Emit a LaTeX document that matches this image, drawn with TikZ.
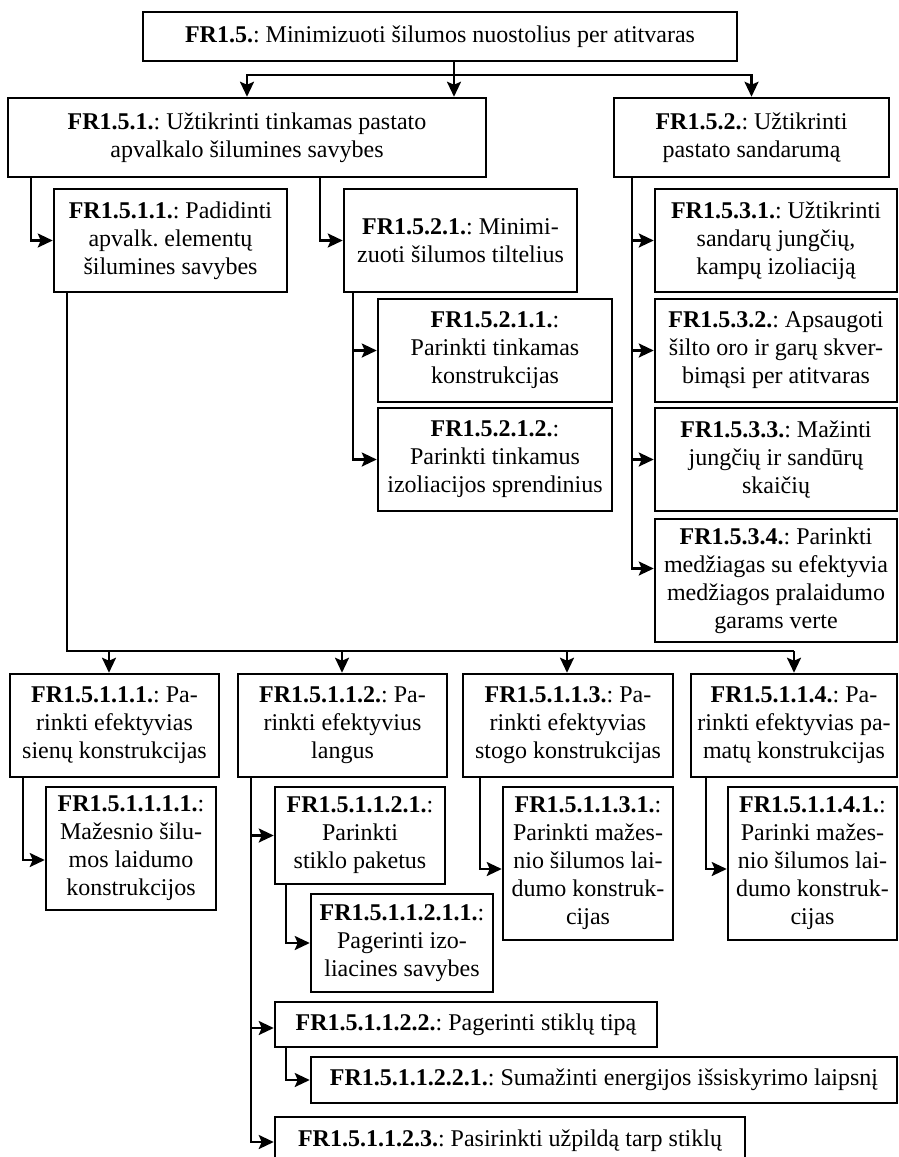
\documentclass[tikz,border=0pt]{standalone}
\usepackage{fontspec}
\setmainfont{Liberation Serif}
\usetikzlibrary{arrows.meta}
\frenchspacing
\tikzset{
  fr/.style={draw, line width=2.5pt, inner xsep=0pt, inner ysep=0pt, align=center,
             font=\fontsize{24}{28}\selectfont},
  wire/.style={line width=2.4pt},
  arr/.style={wire, -{Stealth[length=15pt,width=14pt,inset=3pt]}},
}
\begin{document}
\begin{tikzpicture}[x=1pt, y=-1pt]
\fill[white] (0,0) rectangle (898,1157);
\useasboundingbox (0,0) rectangle (898,1157);

% ---------- level 1 and 2 ----------
\node[fr, minimum width=594pt, minimum height=49pt] (top) at (440,36.5)
  {\textbf{FR1.5.}: Minimizuoti šilumos nuostolius per atitvaras};
\node[fr, minimum width=478pt, minimum height=79pt] (n1) at (247,137.5)
  {\textbf{FR1.5.1.}: Užtikrinti tinkamas pastato\\apvalkalo šilumines savybes};
\node[fr, minimum width=275pt, minimum height=79pt] (n2) at (751.5,137.5)
  {\textbf{FR1.5.2.}: Užtikrinti\\pastato sandarumą};

% ---------- level 3 ----------
\node[fr, minimum width=233pt, minimum height=103pt] (n11) at (170.5,240.5)
  {\textbf{FR1.5.1.1.}: Padidinti\\apvalk. elementų\\šilumines savybes};
\node[fr, minimum width=233pt, minimum height=103pt] (n21) at (460.5,240.5)
  {\textbf{FR1.5.2.1.}: Minimi-\\zuoti šilumos tiltelius};
\node[fr, minimum width=242pt, minimum height=103pt] (n31) at (776,240.5)
  {\textbf{FR1.5.3.1.}: Užtikrinti\\sandarų jungčių,\\kampų izoliaciją};

\node[fr, minimum width=234pt, minimum height=103pt] (n211) at (495,350.5)
  {\textbf{FR1.5.2.1.1.}:\\Parinkti tinkamas\\konstrukcijas};
\node[fr, minimum width=234pt, minimum height=103pt] (n212) at (495,459.5)
  {\textbf{FR1.5.2.1.2.}:\\Parinkti tinkamus\\izoliacijos sprendinius};
\node[fr, minimum width=242pt, minimum height=103pt] (n32) at (776,350.5)
  {\textbf{FR1.5.3.2.}: Apsaugoti\\šilto oro ir garų skver-\\bimąsi per atitvaras};
\node[fr, minimum width=242pt, minimum height=103pt] (n33) at (776,459.5)
  {\textbf{FR1.5.3.3.}: Mažinti\\jungčių ir sandūrų\\skaičių};
\node[fr, minimum width=242pt, minimum height=123pt] (n34) at (776,580.5)
  {\textbf{FR1.5.3.4.}: Parinkti\\medžiagas su efektyvia\\medžiagos pralaidumo\\garams verte};

% ---------- element row ----------
\node[fr, minimum width=209pt, minimum height=103pt] (r1) at (114.5,725.5)
  {\textbf{FR1.5.1.1.1.}: Pa-\\rinkti efektyvias\\sienų konstrukcijas};
\node[fr, minimum width=209pt, minimum height=103pt] (r2) at (342.5,725.5)
  {\textbf{FR1.5.1.1.2.}: Pa-\\rinkti efektyvius\\langus};
\node[fr, minimum width=210pt, minimum height=103pt] (r3) at (568,725.5)
  {\textbf{FR1.5.1.1.3.}: Pa-\\rinkti efektyvias\\stogo konstrukcijas};
\node[fr, minimum width=206pt, minimum height=103pt] (r4) at (794,725.5)
  {\textbf{FR1.5.1.1.4.}: Pa-\\rinkti efektyvias pa-\\matų konstrukcijas};

\node[fr, minimum width=170pt, minimum height=123pt] (s1) at (131,848.5)
  {\textbf{FR1.5.1.1.1.1.}:\\Mažesnio šilu-\\mos laidumo\\konstrukcijos};
\node[fr, minimum width=170pt, minimum height=97pt] (s21) at (360,835.5)
  {\textbf{FR1.5.1.1.2.1.}:\\Parinkti\\stiklo paketus};
\node[fr, minimum width=182pt, minimum height=98pt] (s211) at (402,943)
  {\textbf{FR1.5.1.1.2.1.1.}:\\Pagerinti izo-\\liacines savybes};
\node[fr, minimum width=170pt, minimum height=153pt] (s3) at (588,863.5)
  {\textbf{FR1.5.1.1.3.1.}:\\Parinkti mažes-\\nio šilumos lai-\\dumo konstruk-\\cijas};
\node[fr, minimum width=169pt, minimum height=153pt] (s4) at (812.5,863.5)
  {\textbf{FR1.5.1.1.4.1.}:\\Parinki mažes-\\nio šilumos lai-\\dumo konstruk-\\cijas};

\node[fr, minimum width=382pt, minimum height=45pt] (s22) at (466,1024.5)
  {\textbf{FR1.5.1.1.2.2.}: Pagerinti stiklų tipą};
\node[fr, minimum width=586pt, minimum height=46pt] (s221) at (604,1080)
  {\textbf{FR1.5.1.1.2.2.1.}: Sumažinti energijos išsiskyrimo laipsnį};
\node[fr, minimum width=470pt, minimum height=48pt] (s23) at (510,1141)
  {\textbf{FR1.5.1.1.2.3.}: Pasirinkti užpildą tarp stiklų};

% ---------- trunk positions ----------
\coordinate (t0) at (454,75);
\coordinate (tL) at (247,75);
\coordinate (v1) at (31,0);
\coordinate (v2) at (320,0);
\coordinate (v3) at (632,0);
\coordinate (v21) at (353,0);
\coordinate (v11) at (67,0);
\coordinate (b1) at (109,651);
\coordinate (b2) at (342,651);
\coordinate (b3) at (567,651);
\coordinate (b4) at (794,651);
\coordinate (w1) at (23,0);
\coordinate (w2) at (251,0);
\coordinate (w21) at (286,0);
\coordinate (w3) at (480,0);
\coordinate (w4) at (706,0);

% ---------- connectors ----------
\draw[arr] (top.south -| t0) -- (n1.north -| t0);
\draw[arr] (t0) -| (n1.north -| tL);
\draw[arr] (t0) -| (n2.north);

\draw[arr] (n1.south -| v1) |- (n11.west);
\draw[arr] (n1.south -| v2) |- (n21.west);

\draw[arr] (n2.south -| v3) |- (n31.west);
\draw[arr] (n2.south -| v3) |- (n32.west);
\draw[arr] (n2.south -| v3) |- (n33.west);
\draw[arr] (n2.south -| v3) |- ([yshift=12pt]n34.west);

\draw[arr] (n21.south -| v21) |- (n211.west);
\draw[arr] (n21.south -| v21) |- (n212.west);

\draw[wire] (n11.south -| v11) |- (b4);
\draw[arr] (b1) -- (r1.north -| b1);
\draw[arr] (b2) -- (r2.north -| b2);
\draw[arr] (b3) -- (r3.north -| b3);
\draw[arr] (b4) -- (r4.north -| b4);

\draw[arr] (r1.south -| w1) |- ([yshift=-11.5pt]s1.west);
\draw[arr] (r2.south -| w2) |- (s21.west);
\draw[arr] (r2.south -| w2) |- ([yshift=-3.5pt]s22.west);
\draw[arr] (r2.south -| w2) |- ([yshift=-1pt]s23.west);
\draw[arr] (s21.south -| w21) |- (s211.west);
\draw[arr] (s22.south -| w21) |- (s221.west);
\draw[arr] (r3.south -| w3) |- ([yshift=-5.5pt]s3.west);
\draw[arr] (r4.south -| w4) |- ([yshift=-5.5pt]s4.west);
\end{tikzpicture}
\end{document}
